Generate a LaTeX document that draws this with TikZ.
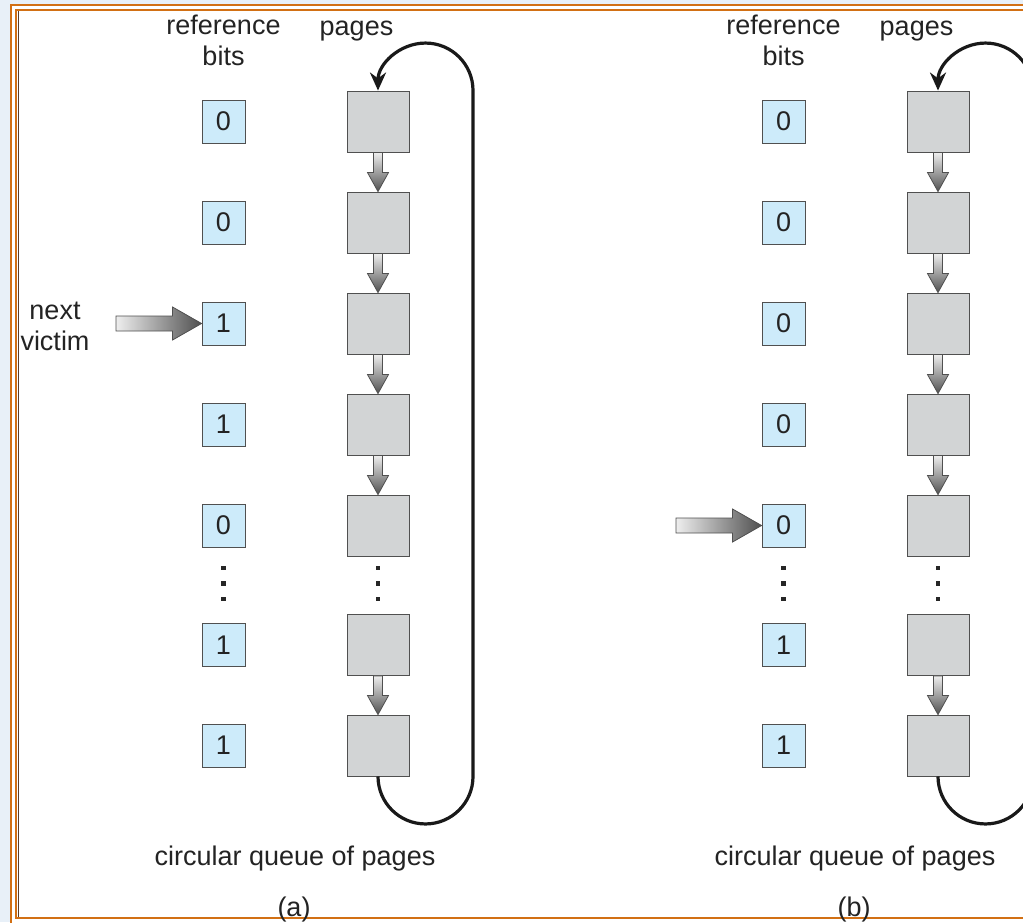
\documentclass[tikz,border=0pt]{standalone}
\usepackage{fontspec}
\setmainfont{Liberation Sans}
\usetikzlibrary{arrows.meta,calc}

\definecolor{framebg}{RGB}{232,240,248}
\definecolor{frameorange}{RGB}{210,112,20}
\definecolor{framedark}{RGB}{90,60,40}
\definecolor{bitfill}{RGB}{205,235,250}
\definecolor{pagefill}{RGB}{210,212,213}
\definecolor{boxline}{RGB}{80,80,80}
\definecolor{inkgray}{RGB}{35,35,35}
\definecolor{shadelight}{RGB}{238,238,238}
\definecolor{shadedark}{RGB}{80,80,80}

\newcommand\pagearrow[2]{%
  \shade[top color=shadelight, bottom color=shadedark, draw=boxline, line width=0.8]
    ($(#1.south)+(-4.5,0)$) -- ($(#2.north)+(-4.5,19)$) -- ($(#2.north)+(-10.5,19)$)
    -- (#2.north) -- ($(#2.north)+(10.5,19)$) -- ($(#2.north)+(4.5,19)$)
    -- ($(#1.south)+(4.5,0)$) -- cycle;}

\newcommand\victimarrow[2]{%
  \shade[left color=shadelight, right color=shadedark, draw=boxline, line width=0.8]
    ($(#1)+(0,7.5)$) -- ($(#2.west)+(-29,7.5)$) -- ($(#2.west)+(-29,16.5)$)
    -- (#2.west) -- ($(#2.west)+(-29,-16.5)$) -- ($(#2.west)+(-29,-7.5)$)
    -- ($(#1)+(0,-7.5)$) -- cycle;}

\begin{document}
\begin{tikzpicture}[
  x=1pt, y=1pt,
  every node/.style={text=inkgray, font=\fontsize{27}{30.5}\selectfont},
  bitbox/.style={draw=boxline, line width=0.9, fill=bitfill, minimum size=43, inner sep=0},
  pagebox/.style={draw=boxline, line width=0.9, fill=pagefill, minimum width=62, minimum height=61, inner sep=0},
  txt/.style={align=center, inner sep=0, anchor=base},
  queueline/.style={line width=3.2, draw=black!90, -{Stealth[length=18, width=16]}},
  dotmark/.style={fill=black!85, minimum size=4.5, inner sep=0}
]
\useasboundingbox (0,0) rectangle (1023,-922);
\clip (0,0) rectangle (1023,-922);

\fill[framebg] (0,0) rectangle (1023,-922);
\fill[white] (11,-5) rectangle (1040,-940);
\draw[frameorange, line width=2] (11,-5) rectangle (1040,-940);
\draw[frameorange, line width=2] (15.5,-10) rectangle (1040,-918);
\draw[framedark, line width=1.2] (18.5,-11) -- (18.5,-917);

\node[txt] (refA) at (223.5,-65) {reference\\bits};
\node[txt] (pagesA) at (356.5,-35) {pages};
\node[txt] (victim) at (55,-350) {next\\victim};

\node[bitbox] (bitA1) at (223.5,-121.5) {0};
\node[bitbox] (bitA2) at (223.5,-222.5) {0};
\node[bitbox] (bitA3) at (223.5,-323.5) {1};
\node[bitbox] (bitA4) at (223.5,-424.5) {1};
\node[bitbox] (bitA5) at (223.5,-525.5) {0};
\node[bitbox] (bitA6) at (223.5,-645) {1};
\node[bitbox] (bitA7) at (223.5,-745.5) {1};

\node[pagebox] (pageA1) at (378,-121.5) {};
\node[pagebox] (pageA2) at (378,-222.5) {};
\node[pagebox] (pageA3) at (378,-323.5) {};
\node[pagebox] (pageA4) at (378,-424.5) {};
\node[pagebox] (pageA5) at (378,-525.5) {};
\node[pagebox] (pageA6) at (378,-645) {};
\node[pagebox] (pageA7) at (378,-745.5) {};

\foreach \y [count=\i] in {568,583.5,599} {
  \node[dotmark] (dotbitA\i) at (223.5,-\y) {};
  \node[dotmark] (dotpageA\i) at (378,-\y) {};
}

\pagearrow{pageA1}{pageA2}
\pagearrow{pageA2}{pageA3}
\pagearrow{pageA3}{pageA4}
\pagearrow{pageA4}{pageA5}
\pagearrow{pageA6}{pageA7}

\draw[queueline] (pageA7.south) arc[start angle=180, end angle=360, radius=47.5]
  -- ($(pageA1.north)+(95,0)$) arc[start angle=0, end angle=180, radius=47.5];

\coordinate (victimtail) at (116,-323.5);
\victimarrow{victimtail}{bitA3}

\node[txt] (queueA) at (295,-865) {circular queue of pages};
\node[txt] (capA) at (294,-916) {(a)};

\node[txt] (refB) at (783.5,-65) {reference\\bits};
\node[txt] (pagesB) at (916.5,-35) {pages};

\node[bitbox] (bitB1) at (783.5,-121.5) {0};
\node[bitbox] (bitB2) at (783.5,-222.5) {0};
\node[bitbox] (bitB3) at (783.5,-323.5) {0};
\node[bitbox] (bitB4) at (783.5,-424.5) {0};
\node[bitbox] (bitB5) at (783.5,-525.5) {0};
\node[bitbox] (bitB6) at (783.5,-645) {1};
\node[bitbox] (bitB7) at (783.5,-745.5) {1};

\node[pagebox] (pageB1) at (938,-121.5) {};
\node[pagebox] (pageB2) at (938,-222.5) {};
\node[pagebox] (pageB3) at (938,-323.5) {};
\node[pagebox] (pageB4) at (938,-424.5) {};
\node[pagebox] (pageB5) at (938,-525.5) {};
\node[pagebox] (pageB6) at (938,-645) {};
\node[pagebox] (pageB7) at (938,-745.5) {};

\foreach \y [count=\i] in {568,583.5,599} {
  \node[dotmark] (dotbitB\i) at (783.5,-\y) {};
  \node[dotmark] (dotpageB\i) at (938,-\y) {};
}

\pagearrow{pageB1}{pageB2}
\pagearrow{pageB2}{pageB3}
\pagearrow{pageB3}{pageB4}
\pagearrow{pageB4}{pageB5}
\pagearrow{pageB6}{pageB7}

\draw[queueline] (pageB7.south) arc[start angle=180, end angle=360, radius=47.5]
  -- ($(pageB1.north)+(95,0)$) arc[start angle=0, end angle=180, radius=47.5];

\coordinate (handtail) at (676,-525.5);
\victimarrow{handtail}{bitB5}

\node[txt] (queueB) at (855,-865) {circular queue of pages};
\node[txt] (capB) at (854,-916) {(b)};
\end{tikzpicture}
\end{document}
